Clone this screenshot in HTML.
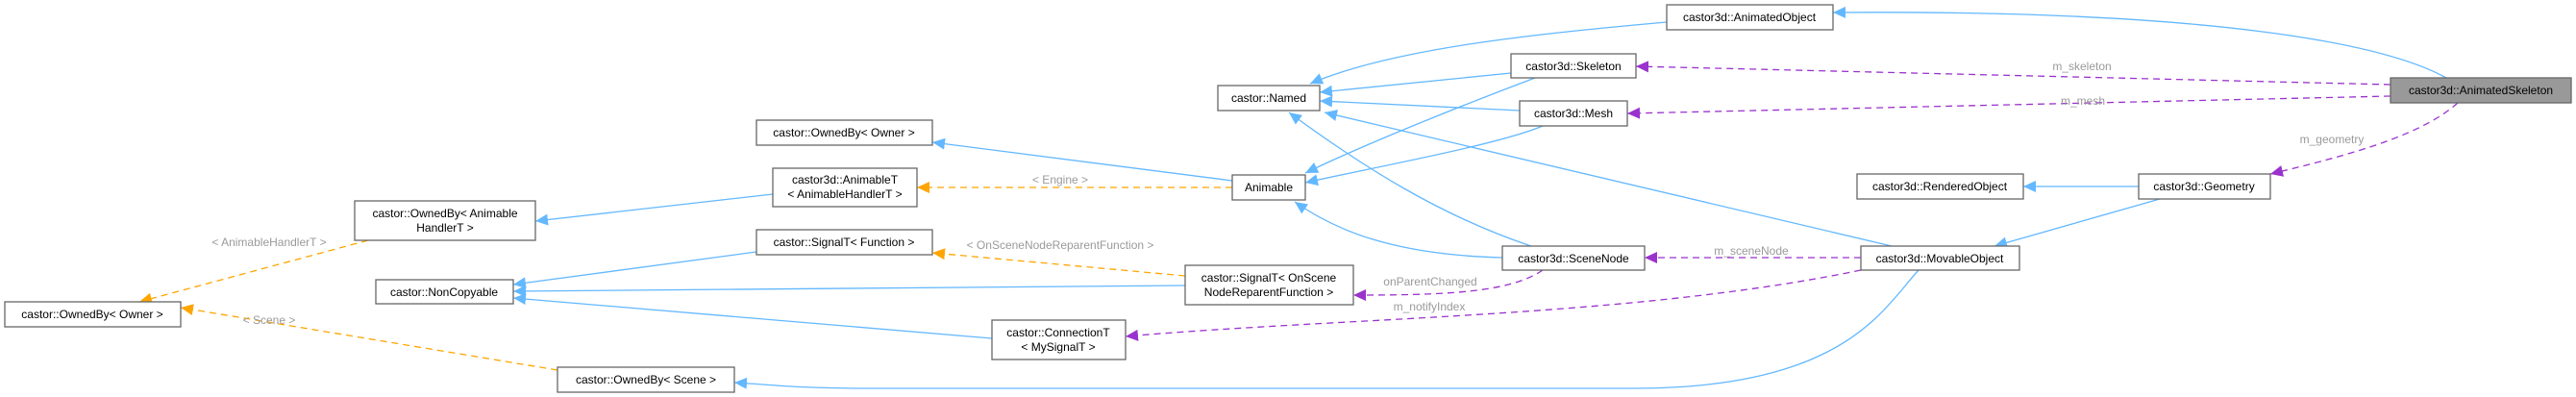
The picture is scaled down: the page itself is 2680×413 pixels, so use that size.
<!DOCTYPE html>
<html><head><meta charset="utf-8"><style>
html,body{margin:0;padding:0;background:#fff;width:2680px;height:413px;overflow:hidden}
svg{display:block}
text{font-family:"Liberation Sans",Arial,sans-serif;font-size:12px}
.b{fill:#fff;stroke:#666;stroke-width:1.3}
.t{fill:#000;text-anchor:middle}
.l{fill:#9a9a9a;text-anchor:middle}
.bl{fill:none;stroke:#63b8ff;stroke-width:1.3}
.or{fill:none;stroke:#ffa500;stroke-width:1.3;stroke-dasharray:7,5}
.pu{fill:none;stroke:#9a32cd;stroke-width:1.3;stroke-dasharray:7,5}
</style></head><body>
<svg width="2680" height="413" viewBox="0 0 2680 413" xmlns="http://www.w3.org/2000/svg">
<defs>
<marker id="ab" markerUnits="userSpaceOnUse" markerWidth="14" markerHeight="12" refX="13" refY="6" orient="auto"><path d="M0,0 L13,6 L0,12 z" fill="#63b8ff"/></marker>
<marker id="ao" markerUnits="userSpaceOnUse" markerWidth="14" markerHeight="12" refX="13" refY="6" orient="auto"><path d="M0,0 L13,6 L0,12 z" fill="#ffa500"/></marker>
<marker id="ap" markerUnits="userSpaceOnUse" markerWidth="14" markerHeight="12" refX="13" refY="6" orient="auto"><path d="M0,0 L13,6 L0,12 z" fill="#9a32cd"/></marker>
</defs>
<!-- blue edges -->
<path class="bl" marker-end="url(#ab)" d="M2545,81 C2480,45 2300,10 1907,13"/>
<path class="bl" marker-end="url(#ab)" d="M1734,23 C1600,35 1450,50 1363,87"/>
<path class="bl" marker-end="url(#ab)" d="M1572,76 L1373,96"/>
<path class="bl" marker-end="url(#ab)" d="M1581,115 L1373,105"/>
<path class="bl" marker-end="url(#ab)" d="M1597,81 C1520,110 1420,150 1358,180"/>
<path class="bl" marker-end="url(#ab)" d="M1605,131 C1560,150 1440,172 1358,190"/>
<path class="bl" marker-end="url(#ab)" d="M1593,256 C1500,225 1420,175 1341,117"/>
<path class="bl" marker-end="url(#ab)" d="M1563,268 C1450,265 1390,240 1347,210"/>
<path class="bl" marker-end="url(#ab)" d="M1968,256 L1378,117"/>
<path class="bl" marker-end="url(#ab)" d="M2225,194 L2105,194"/>
<path class="bl" marker-end="url(#ab)" d="M2247,207 L2075,256"/>
<path class="bl" marker-end="url(#ab)" d="M1996,281 C1960,320 1920,404 1700,404 L900,404 C830,404 800,400 764,398"/>
<path class="bl" marker-end="url(#ab)" d="M1282,188 L970,148"/>
<path class="bl" marker-end="url(#ab)" d="M804,202 L557,230"/>
<path class="bl" marker-end="url(#ab)" d="M787,262 L534,296"/>
<path class="bl" marker-end="url(#ab)" d="M1233,297 L534,303"/>
<path class="bl" marker-end="url(#ab)" d="M1032,352 L534,310"/>
<!-- orange -->
<path class="or" marker-end="url(#ao)" d="M1282,195 L954,195"/>
<path class="or" marker-end="url(#ao)" d="M1233,287 L970,263"/>
<path class="or" marker-end="url(#ao)" d="M383,250 L145,314"/>
<path class="or" marker-end="url(#ao)" d="M580,385 L188,320"/>
<!-- purple -->
<path class="pu" marker-end="url(#ap)" d="M2487,88 L1702,69"/>
<path class="pu" marker-end="url(#ap)" d="M2487,100 L1693,118"/>
<path class="pu" marker-end="url(#ap)" d="M2557,107 C2520,140 2450,160 2362,181"/>
<path class="pu" marker-end="url(#ap)" d="M1936,268 L1711,268"/>
<path class="pu" marker-end="url(#ap)" d="M1605,281 C1570,305 1500,307 1408,307"/>
<path class="pu" marker-end="url(#ap)" d="M1936,281 C1700,330 1400,330 1171,350"/>
<!-- labels -->
<text class="l" x="1103" y="191">&lt; Engine &gt;</text>
<text class="l" x="1103" y="259">&lt; OnSceneNodeReparentFunction &gt;</text>
<text class="l" x="280" y="256">&lt; AnimableHandlerT &gt;</text>
<text class="l" x="280" y="337">&lt; Scene &gt;</text>
<text class="l" x="1488" y="297">onParentChanged</text>
<text class="l" x="1487" y="323">m_notifyIndex</text>
<text class="l" x="2166" y="73">m_skeleton</text>
<text class="l" x="2167" y="109">m_mesh</text>
<text class="l" x="2426" y="149">m_geometry</text>
<text class="l" x="1822" y="265">m_sceneNode</text>
<!-- nodes -->
<rect x="2487" y="81" width="188" height="26" fill="#999" stroke="#666" stroke-width="1.3"/>
<text class="t" x="2581" y="98">castor3d::AnimatedSkeleton</text>
<rect class="b" x="1734" y="5" width="173" height="26"/><text class="t" x="1820" y="22">castor3d::AnimatedObject</text>
<rect class="b" x="1267" y="89" width="106" height="26"/><text class="t" x="1320" y="106">castor::Named</text>
<rect class="b" x="1572" y="56" width="130" height="25"/><text class="t" x="1637" y="73">castor3d::Skeleton</text>
<rect class="b" x="1581" y="105" width="112" height="26"/><text class="t" x="1637" y="122">castor3d::Mesh</text>
<rect class="b" x="787" y="125" width="183" height="26"/><text class="t" x="878" y="142">castor::OwnedBy&lt; Owner &gt;</text>
<rect class="b" x="804" y="175" width="150" height="40"/><text class="t" x="879" y="191">castor3d::AnimableT</text><text class="t" x="879" y="206">&lt; AnimableHandlerT &gt;</text>
<rect class="b" x="1282" y="182" width="76" height="26"/><text class="t" x="1320" y="199">Animable</text>
<rect class="b" x="787" y="239" width="183" height="26"/><text class="t" x="878" y="256">castor::SignalT&lt; Function &gt;</text>
<rect class="b" x="1233" y="276" width="175" height="41"/><text class="t" x="1320" y="293">castor::SignalT&lt; OnScene</text><text class="t" x="1320" y="308">NodeReparentFunction &gt;</text>
<rect class="b" x="1032" y="333" width="139" height="41"/><text class="t" x="1101" y="350">castor::ConnectionT</text><text class="t" x="1101" y="365">&lt; MySignalT &gt;</text>
<rect class="b" x="1563" y="256" width="148" height="25"/><text class="t" x="1637" y="273">castor3d::SceneNode</text>
<rect class="b" x="1932" y="181" width="173" height="26"/><text class="t" x="2018" y="198">castor3d::RenderedObject</text>
<rect class="b" x="2225" y="181" width="137" height="26"/><text class="t" x="2293" y="198">castor3d::Geometry</text>
<rect class="b" x="1936" y="256" width="165" height="25"/><text class="t" x="2018" y="273">castor3d::MovableObject</text>
<rect class="b" x="5" y="314" width="183" height="26"/><text class="t" x="96" y="331">castor::OwnedBy&lt; Owner &gt;</text>
<rect class="b" x="369" y="209" width="188" height="41"/><text class="t" x="463" y="226">castor::OwnedBy&lt; Animable</text><text class="t" x="463" y="241">HandlerT &gt;</text>
<rect class="b" x="391" y="291" width="143" height="25"/><text class="t" x="462" y="308">castor::NonCopyable</text>
<rect class="b" x="580" y="382" width="184" height="26"/><text class="t" x="672" y="399">castor::OwnedBy&lt; Scene &gt;</text>
</svg>
</body></html>
